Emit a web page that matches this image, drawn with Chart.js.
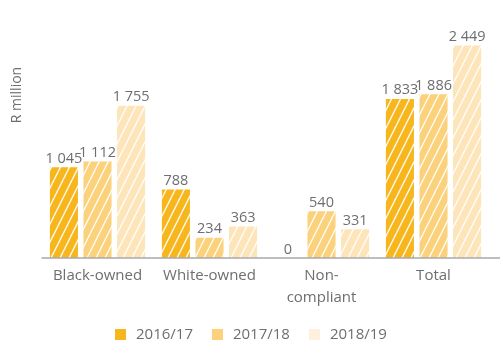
<!DOCTYPE html>
<html>
<head>
<meta charset="utf-8">
<script src="https://cdn.jsdelivr.net/npm/chart.js@4.4.0/dist/chart.umd.min.js"></script>
<style>
  html, body { margin: 0; padding: 0; background: #fff; }
  #wrap { width: 500px; height: 343px; position: relative; }
</style>
</head>
<body>
<div id="wrap"><canvas id="barChart"></canvas></div>
<script>
// Spending by ownership, R million
const categories = ['Black-owned', 'White-owned', ['Non-', 'compliant'], 'Total'];
const years = ['2016/17', '2017/18', '2018/19'];
const values1617 = [1045, 788, 0, 1833];
const values1718 = [1112, 234, 540, 1886];
const values1819 = [1755, 363, 331, 2449];
const yMax = 2800;

const barColors = ['#F6B61C', '#FBD17B', '#FDE5B9'];
const swatchColors = ['#F6B61C', '#FBD17B', '#FEF0DC'];
const textColor = '#6D6E71';
const font = '"Open Sans", sans-serif';

Chart.defaults.font.family = font;

// diagonal white stripes over a base colour
function hatch(color) {
    const c = document.createElement('canvas');
    c.width = 9;
    c.height = 18;
    const g = c.getContext('2d');
    g.fillStyle = color;
    g.fillRect(0, 0, 9, 18);
    g.strokeStyle = 'rgba(255,255,255,0.95)';
    g.lineWidth = 1.4;
    for (const dx of [-9, 0, 9]) {
        g.beginPath();
        g.moveTo(dx, 18);
        g.lineTo(dx + 9, 0);
        g.stroke();
    }
    return g.createPattern(c, 'repeat');
}

function fmt(n) {
    return String(n).replace(/\B(?=(\d{3})+(?!\d))/g, ' ');
}

// value above every bar
const valueLabels = {
    id: 'valueLabels',
    afterDatasetsDraw(chart) {
        const ctx = chart.ctx;
        ctx.save();
        ctx.font = '14.5px ' + font;
        ctx.fillStyle = textColor;
        ctx.textAlign = 'center';
        ctx.textBaseline = 'alphabetic';
        chart.data.datasets.forEach((ds, i) => {
            chart.getDatasetMeta(i).data.forEach((bar, j) => {
                ctx.fillText(fmt(ds.data[j]), bar.x, bar.y - 4.5);
            });
        });
        ctx.restore();
    }
};

// grey baseline, axis title and legend
const decorations = {
    id: 'decorations',
    afterDraw(chart) {
        const ctx = chart.ctx;
        const y0 = chart.scales.y.getPixelForValue(0);
        ctx.save();
        ctx.strokeStyle = '#A7A9AC';
        ctx.lineWidth = 1.5;
        ctx.beginPath();
        ctx.moveTo(chart.chartArea.left, y0);
        ctx.lineTo(chart.width, y0);
        ctx.stroke();

        ctx.fillStyle = textColor;
        ctx.font = '14px ' + font;
        ctx.textAlign = 'center';
        ctx.textBaseline = 'middle';
        ctx.translate(17, 95);
        ctx.rotate(-Math.PI / 2);
        ctx.fillText('R million', 0, 0);
        ctx.restore();

        ctx.save();
        ctx.font = '15px ' + font;
        ctx.textBaseline = 'middle';
        let x = 115;
        const y = 334.5;
        years.forEach((yr, i) => {
            ctx.fillStyle = swatchColors[i];
            ctx.fillRect(x, y - 5.5, 11, 11);
            ctx.fillStyle = textColor;
            ctx.fillText(yr, x + 21, y);
            x += 21 + ctx.measureText(yr).width + 19;
        });
        ctx.restore();
    }
};

new Chart(document.getElementById('barChart').getContext('2d'), {
    type: 'bar',
    data: {
        labels: categories,
        datasets: [
            { label: years[0], data: values1617, backgroundColor: hatch(barColors[0]) },
            { label: years[1], data: values1718, backgroundColor: hatch(barColors[1]) },
            { label: years[2], data: values1819, backgroundColor: hatch(barColors[2]) }
        ]
    },
    options: {
        responsive: true,
        maintainAspectRatio: false,
        animation: false,
        categoryPercentage: 0.9,
        barPercentage: 0.835,
        layout: {
            padding: { top: 15, left: 41.5, right: 10.5, bottom: 28 }
        },
        plugins: {
            legend: { display: false },
            tooltip: { enabled: false }
        },
        scales: {
            x: {
                grid: { display: false, drawTicks: false },
                border: { display: false },
                ticks: {
                    color: textColor,
                    padding: 6,
                    font: { size: 15, lineHeight: 1.5 }
                }
            },
            y: {
                display: false,
                min: 0,
                max: yMax
            }
        }
    },
    plugins: [valueLabels, decorations]
});
</script>
</body>
</html>
